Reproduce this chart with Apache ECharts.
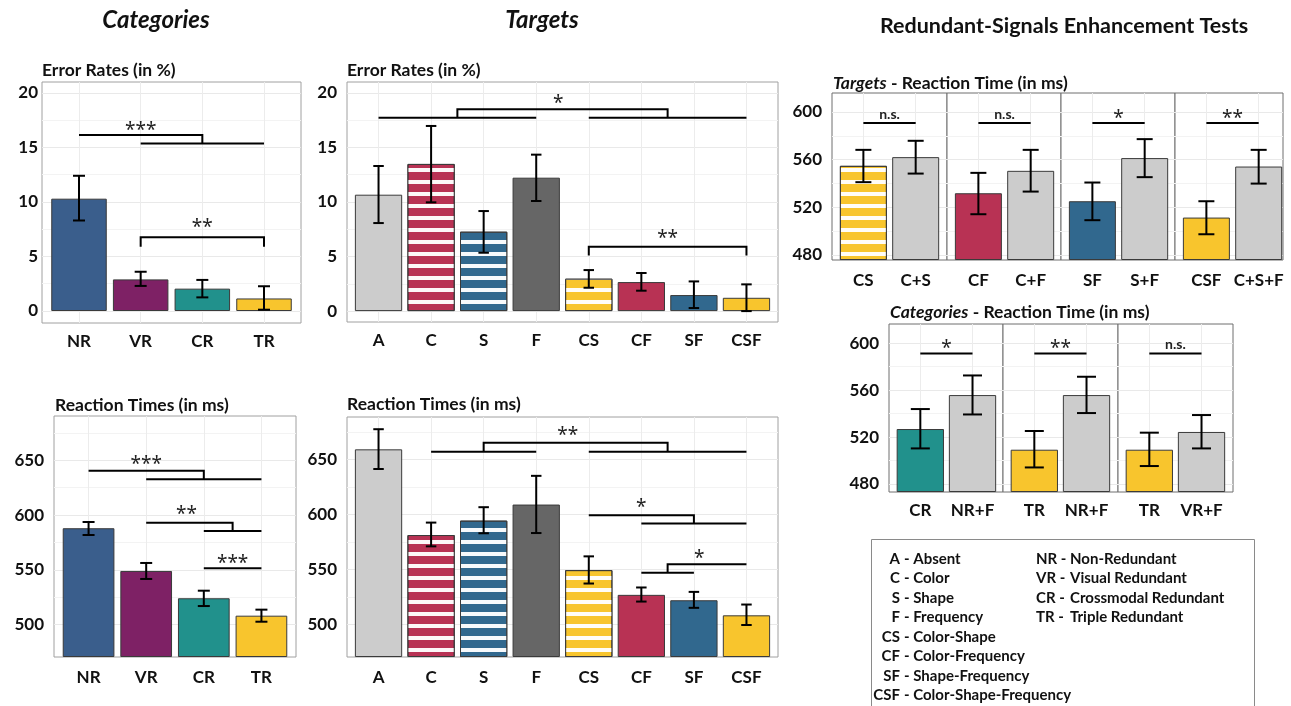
<!DOCTYPE html>
<html>
<head>
<meta charset="utf-8">
<script src="https://cdn.jsdelivr.net/npm/echarts@6/dist/echarts.min.js"></script>
<style>
  html, body { margin: 0; padding: 0; background: #fff; }
  #chart { width: 1291px; height: 706px; }
</style>
</head>
<body>
<div id="chart"></div>
<script>
const FONT = 'Lato, "Open Sans", "Noto Sans", sans-serif';
const STAR_FONT = '"Noto Sans", "DejaVu Sans", sans-serif';

// ---- categories ----
const catLabels = ['NR', 'VR', 'CR', 'TR'];
const tgtLabels = ['A', 'C', 'S', 'F', 'CS', 'CF', 'SF', 'CSF'];

// ---- error rates (in %) ----
const catErrMean = [10.3, 2.9, 2.05, 1.15];
const catErrLow  = [8.3, 2.3, 1.25, 0.12];
const catErrHigh = [12.4, 3.6, 2.85, 2.27];

const tgtErrMean = [10.67, 13.49, 7.28, 12.23, 2.97, 2.66, 1.47, 1.22];
const tgtErrLow  = [8.07, 9.97, 5.35, 10.09, 2.14, 1.87, 0.28, 0.0];
const tgtErrHigh = [13.3, 16.97, 9.17, 14.34, 3.76, 3.49, 2.72, 2.45];

// ---- reaction times (in ms) ----
const catRtMean = [588, 549, 524.1, 508.2];
const catRtLow  = [581.8, 541.7, 517, 502.7];
const catRtHigh = [593.7, 556.3, 531, 513.7];

const tgtRtMean = [659.1, 581.2, 594.3, 608.9, 549.3, 526.8, 521.9, 508.2];
const tgtRtLow  = [641.2, 570.9, 582.8, 583, 537.1, 520.7, 515, 499.4];
const tgtRtHigh = [677.4, 592.5, 606.5, 635, 561.8, 533.5, 529.5, 518];

// ---- redundant-signals enhancement: targets ----
const rseTgtLabels = [['CS', 'C+S'], ['CF', 'C+F'], ['SF', 'S+F'], ['CSF', 'C+S+F']];
const rseTgtMean = [[554.8, 562.1], [531.8, 550.6], [525.1, 561.3], [511.4, 554.2]];
const rseTgtLow  = [[541.1, 548.3], [514.2, 533.2], [509.2, 545.3], [497.4, 539.9]];
const rseTgtHigh = [[568.2, 575.8], [548.9, 568.2], [540.8, 577.2], [525.1, 568.2]];
const rseTgtSig  = ['n.s.', 'n.s.', '*', '**'];

// ---- redundant-signals enhancement: categories ----
const rseCatLabels = [['CR', 'NR+F'], ['TR', 'NR+F'], ['TR', 'VR+F']];
const rseCatMean = [[526.8, 555.7], [509.2, 555.7], [509.2, 524.3]];
const rseCatLow  = [[510.3, 539.2], [494.1, 540.4], [495.3, 510.3]];
const rseCatHigh = [[543.8, 572.4], [525.1, 571.3], [523.7, 538.7]];
const rseCatSig  = ['*', '**', 'n.s.'];

// ---- significance brackets (category position, value) ----
const catErrSig = [
  { text: '***', paths: [[[1, 16.15], [3, 16.15], [3, 15.35]], [[2, 15.35], [4, 15.35]]], at: [2, 16.95] },
  { text: '**',  paths: [[[2, 5.9], [2, 6.76], [4, 6.76], [4, 5.9]]], at: [3, 7.98] }
];
const tgtErrSig = [
  { text: '*',  paths: [[[1, 17.73], [4, 17.73]], [[5, 17.73], [8, 17.73]], [[2.5, 17.73], [2.5, 18.5], [6.5, 18.5], [6.5, 17.73]]], at: [4.42, 19.36] },
  { text: '**', paths: [[[5, 5.1], [5, 5.9], [8, 5.9], [8, 5.1]]], at: [6.5, 6.97] }
];
const catRtSig = [
  { text: '***', paths: [[[1, 640.5], [3, 640.5], [3, 632.7]], [[2, 632.7], [4, 632.7]]], at: [2, 650] },
  { text: '**',  paths: [[[2, 593], [3.5, 593], [3.5, 585.5]], [[3, 585.5], [4, 585.5]]], at: [2.7, 604] },
  { text: '***', paths: [[[3, 551.4], [4, 551.4]]], at: [3.5, 559.6] }
];
const tgtRtSig = [
  { text: '**', paths: [[[2, 656.9], [4, 656.9]], [[5, 656.9], [8, 656.9]], [[3, 656.9], [3, 665.1], [6.5, 665.1], [6.5, 656.9]]], at: [4.6, 675.5] },
  { text: '*',  paths: [[[5, 599.2], [7, 599.2], [7, 591.6]], [[6, 591.6], [8, 591.6]]], at: [6, 609.5] },
  { text: '*',  paths: [[[6, 546.9], [7, 546.9]], [[6.5, 546.9], [6.5, 554.7], [8, 554.7]]], at: [7.1, 563] }
];

// ---- abbreviation key ----
const keyLeft = [['A', 'Absent'], ['C', 'Color'], ['S', 'Shape'], ['F', 'Frequency'],
  ['CS', 'Color-Shape'], ['CF', 'Color-Frequency'], ['SF', 'Shape-Frequency'], ['CSF', 'Color-Shape-Frequency']];
const keyRight = [['NR', 'Non-Redundant'], ['VR', 'Visual Redundant'], ['CR', 'Crossmodal Redundant'], ['TR', 'Triple Redundant']];

// ---- styling ----
const FILL = {
  NR: '#3A5E8C', VR: '#7E2165', CR: '#21918C', TR: '#F8C52D',
  A: '#CCCCCC', C: '#B83254', S: '#31688E', F: '#666666',
  CS: '#F8C52D', CF: '#B83254', SF: '#31688E', CSF: '#F8C52D'
};
const COMBINED = '#CCCCCC';
const STRIPED = ['C', 'S', 'CS'];
const STRIPES = { symbol: 'rect', symbolSize: 1, dashArrayX: [1, 0], dashArrayY: [3.5, 8], rotation: 0, color: 'rgba(255,255,255,0.96)' };

function fillFor(label) { return FILL[label] || COMBINED; }

const option = {
  animation: false,
  backgroundColor: '#fff',
  grid: [], xAxis: [], yAxis: [], series: [], graphic: []
};

function errorBars(cap) {
  return function (params, api) {
    const x = api.value(0);
    const lo = api.coord([x, api.value(1)]);
    const hi = api.coord([x, api.value(2)]);
    const h = cap / 2;
    const st = { stroke: '#000', lineWidth: 2, fill: 'none' };
    return {
      type: 'group',
      children: [
        { type: 'line', shape: { x1: lo[0], y1: lo[1], x2: hi[0], y2: hi[1] }, style: st },
        { type: 'line', shape: { x1: lo[0] - h, y1: lo[1], x2: lo[0] + h, y2: lo[1] }, style: st },
        { type: 'line', shape: { x1: hi[0] - h, y1: hi[1], x2: hi[0] + h, y2: hi[1] }, style: st }
      ]
    };
  };
}

function brackets(list) {
  return function (params, api) {
    const a = list[params.dataIndex];
    const children = a.paths.map(path => ({
      type: 'polyline',
      shape: { points: path.map(pt => api.coord(pt)) },
      style: { stroke: '#000', lineWidth: 2, fill: 'none' }
    }));
    const c = api.coord(a.at);
    const isStar = a.text.indexOf('*') >= 0;
    children.push({
      type: 'text',
      style: {
        text: a.text, x: c[0], y: c[1] + (isStar ? 4 : 0),
        align: 'center', verticalAlign: 'middle',
        font: isStar ? ('19px ' + STAR_FONT) : ('bold 14px ' + FONT),
        fill: '#222'
      }
    });
    return { type: 'group', children };
  };
}

function addPanel(p) {
  const gi = option.grid.length;
  const n = p.labels.length;
  const xs = p.labels.map((_, i) => i + 1);
  option.grid.push({
    left: p.left, top: p.top, width: p.width, height: p.height,
    show: true, borderColor: p.border || '#a0a0a0', borderWidth: 1, backgroundColor: '#fff'
  });
  option.xAxis.push({
    type: 'value', gridIndex: gi, min: 0.4, max: p.xMax || (n + 0.6),
    axisLine: { show: false },
    axisTick: { show: false, customValues: xs },
    splitLine: { show: true, lineStyle: { color: '#ececec', width: 1 } },
    axisLabel: {
      customValues: xs, margin: p.xMargin,
      formatter: v => p.labels[Math.round(v) - 1] || '',
      fontFamily: FONT, fontWeight: 'bold', fontSize: 17, color: '#111'
    }
  });
  option.yAxis.push({
    type: 'value', gridIndex: gi, min: p.yMin, max: p.yMax,
    startValue: p.base,
    axisLine: { show: false },
    axisTick: { show: false, customValues: p.gridVals },
    splitLine: { show: true, lineStyle: { color: ['#e9e9e9', '#f3f3f3'], width: 1 } },
    axisLabel: {
      show: p.showY !== false, customValues: p.yTicks, margin: p.yMargin,
      fontFamily: FONT, fontWeight: 'bold', fontSize: 17, color: '#111'
    }
  });
  option.series.push({
    type: 'bar', xAxisIndex: gi, yAxisIndex: gi, barWidth: p.barWidth, silent: true, z: 2,
    itemStyle: { borderColor: '#3a3a3a', borderWidth: 1 },
    data: p.means.map((v, i) => {
      const it = { value: [i + 1, v], itemStyle: { color: p.colors[i] } };
      if (p.striped[i]) it.itemStyle.decal = STRIPES;
      return it;
    })
  });
  option.series.push({
    type: 'custom', xAxisIndex: gi, yAxisIndex: gi, silent: true, clip: false, z: 5,
    encode: { x: 0, y: [1, 2] },
    data: p.low.map((lo, i) => [i + 1, lo, p.high[i]]),
    renderItem: errorBars(p.cap)
  });
  if (p.sig && p.sig.length) {
    option.series.push({
      type: 'custom', xAxisIndex: gi, yAxisIndex: gi, silent: true, clip: false, z: 6,
      encode: { x: 0, y: 1 },
      data: p.sig.map(a => a.at),
      renderItem: brackets(p.sig)
    });
  }
}

const errTicks = [0, 5, 10, 15, 20];
const errGrid = [0, 2.5, 5, 7.5, 10, 12.5, 15, 17.5, 20];
const rtTicks = [500, 550, 600, 650];
const rtGrid = [500, 525, 550, 575, 600, 625, 650, 675];
const rseTicks = [480, 520, 560, 600];
const rseGrid = [480, 500, 520, 540, 560, 580, 600];

// Categories - error rates
addPanel({
  left: 42, top: 82, width: 259, height: 241, yMin: -1.1, yMax: 21.0, base: 0,
  labels: catLabels, means: catErrMean, low: catErrLow, high: catErrHigh,
  colors: catLabels.map(fillFor), striped: catLabels.map(() => false),
  yTicks: errTicks, gridVals: errGrid, yMargin: 4, xMargin: 10,
  barWidth: 55.5, cap: 12, sig: catErrSig
});
// Targets - error rates
addPanel({
  left: 347, top: 82, width: 431, height: 240, yMin: -1.0, yMax: 21.0, base: 0,
  labels: tgtLabels, means: tgtErrMean, low: tgtErrLow, high: tgtErrHigh,
  colors: tgtLabels.map(fillFor), striped: tgtLabels.map(l => STRIPED.includes(l)),
  yTicks: errTicks, gridVals: errGrid, yMargin: 10, xMargin: 10,
  barWidth: 47.3, cap: 10.5, sig: tgtErrSig
});
// Categories - reaction times
addPanel({
  left: 54, top: 416, width: 242, height: 241, yMin: 470.5, yMax: 690.4, base: 470.5,
  labels: catLabels, means: catRtMean, low: catRtLow, high: catRtHigh,
  colors: catLabels.map(fillFor), striped: catLabels.map(() => false),
  yTicks: rtTicks, gridVals: rtGrid, yMargin: 10, xMargin: 12,
  barWidth: 51.7, cap: 12, sig: catRtSig
});
// Targets - reaction times
addPanel({
  left: 347, top: 417, width: 431, height: 240, yMin: 470.3, yMax: 688.5, base: 470.3,
  labels: tgtLabels, means: tgtRtMean, low: tgtRtLow, high: tgtRtHigh,
  colors: tgtLabels.map(fillFor), striped: tgtLabels.map(l => STRIPED.includes(l)),
  yTicks: rtTicks, gridVals: rtGrid, yMargin: 10, xMargin: 12,
  barWidth: 47.3, cap: 10.5, sig: tgtRtSig
});

// Redundant-signals enhancement, targets (one facet per comparison)
const rseTgtBox = [[832, 115], [947, 114], [1061, 114], [1175, 108]];
rseTgtLabels.forEach((labs, k) => {
  addPanel({
    left: rseTgtBox[k][0], top: 93, width: rseTgtBox[k][1], height: 167,
    yMin: 475.8, yMax: 615.9, base: 475.8, xMax: 0.4 + rseTgtBox[k][1] / 52.3,
    labels: labs, means: rseTgtMean[k], low: rseTgtLow[k], high: rseTgtHigh[k],
    colors: labs.map(fillFor), striped: labs.map(l => STRIPED.includes(l)),
    yTicks: rseTicks, gridVals: rseGrid, yMargin: 10, xMargin: 12, showY: k === 0,
    border: '#6e6e6e', barWidth: 47, cap: 16,
    sig: [{ text: rseTgtSig[k], paths: [[[1, 590.7], [2, 590.7]]], at: [1.5, 597.6] }]
  });
});

// Redundant-signals enhancement, categories
const rseCatBox = [[889, 114], [1003, 115], [1118, 115]];
rseCatLabels.forEach((labs, k) => {
  addPanel({
    left: rseCatBox[k][0], top: 324, width: rseCatBox[k][1], height: 168,
    yMin: 473.2, yMax: 616.2, base: 473.2, xMax: 0.4 + rseCatBox[k][1] / 52.2,
    labels: labs, means: rseCatMean[k], low: rseCatLow[k], high: rseCatHigh[k],
    colors: labs.map(fillFor), striped: labs.map(() => false),
    yTicks: rseTicks, gridVals: rseGrid, yMargin: 10, xMargin: 10, showY: k === 0,
    border: '#6e6e6e', barWidth: 47.3, cap: 19,
    sig: [{ text: rseCatSig[k], paths: [[[1, 591.1], [2, 591.1]]], at: [1.5, 599] }]
  });
});

// ---- headings and titles ----
function txt(x, y, text, font, align, extra) {
  return {
    type: 'text', x, y, z: 10, silent: true,
    style: Object.assign({ text, font, align: align || 'left', verticalAlign: 'middle', fill: '#111' }, extra || {})
  };
}
const G = option.graphic;
const RICH_I = { i: { fontStyle: 'italic', fontWeight: 'bold', fontSize: 17.5, fontFamily: FONT, fill: '#111' } };
G.push(txt(156, 20, 'Categories', 'italic bold 24px ' + FONT, 'center'));
G.push(txt(542, 20, 'Targets', 'italic bold 24px ' + FONT, 'center'));
G.push(txt(1064, 26, 'Redundant-Signals Enhancement Tests', 'bold 21.5px ' + FONT, 'center'));
G.push(txt(42, 70, 'Error Rates (in %)', 'bold 17.5px ' + FONT));
G.push(txt(347, 70, 'Error Rates (in %)', 'bold 17.5px ' + FONT));
G.push(txt(55, 405, 'Reaction Times (in ms)', 'bold 17.5px ' + FONT));
G.push(txt(347, 404, 'Reaction Times (in ms)', 'bold 17.5px ' + FONT));
G.push(txt(833, 83, '{i|Targets} - Reaction Time (in ms)', 'bold 17.5px ' + FONT, 'left', { rich: RICH_I }));
G.push(txt(890, 312, '{i|Categories} - Reaction Time (in ms)', 'bold 17.5px ' + FONT, 'left', { rich: RICH_I }));

// ---- abbreviation key ----
G.push({ type: 'rect', z: 1, silent: true, shape: { x: 871.5, y: 539.5, width: 383, height: 200 },
  style: { fill: '#fff', stroke: '#8a8a8a', lineWidth: 1 } });
const KEY_FONT = 'bold 15px ' + FONT;
keyLeft.forEach((row, i) => {
  const y = 559 + i * 19.5;
  G.push(txt(900, y, row[0], KEY_FONT, 'right'));
  G.push(txt(904, y, '- ' + row[1], KEY_FONT, 'left'));
});
keyRight.forEach((row, i) => {
  const y = 559 + i * 19.5;
  G.push(txt(1036, y, row[0] + ' -', KEY_FONT, 'left'));
  G.push(txt(1070, y, row[1], KEY_FONT, 'left'));
});

const chart = echarts.init(document.getElementById('chart'), null, { renderer: 'canvas' });
chart.setOption(option);
</script>
</body>
</html>
